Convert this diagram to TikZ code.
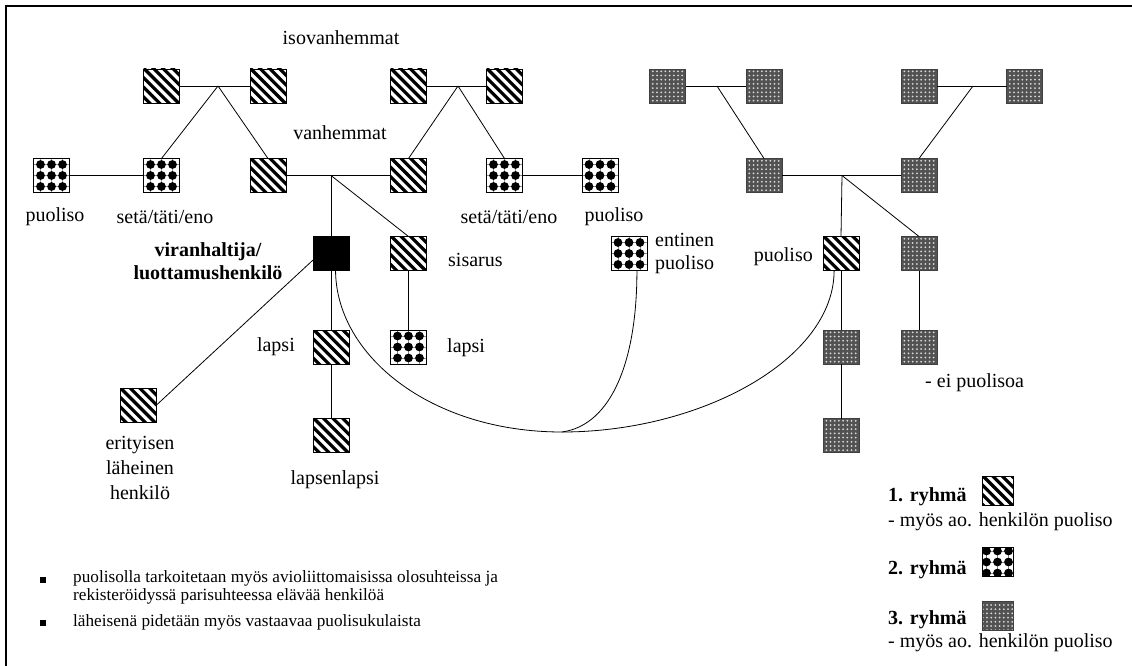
\documentclass[tikz,border=0pt]{standalone}
\usepackage{fontspec}
\setmainfont{Liberation Serif}
\begin{document}
\begin{tikzpicture}[x=1pt,y=-1pt,
  sq/.style={draw, line width=0.8pt, minimum width=36pt, minimum height=34pt, inner sep=0pt, outer sep=0pt},
  lgs/.style={minimum width=31pt, minimum height=29pt},
  hat/.style={sq, path picture={\begin{scope}[shift={(path picture bounding box.center)}]
      \foreach \k in {-6,...,6}{\draw[line width=3.2pt] (\k*9.6-30,-30) -- ++(60,60);}
    \end{scope}}},
  dts/.style={sq, path picture={\begin{scope}[shift={(path picture bounding box.center)}]
      \foreach \a in {-11,0,11}{\draw[line width=0.4pt, black!45] (\a,-20) -- (\a,20); \draw[line width=0.4pt, black!45] (-20,\a) -- (20,\a);}
      \foreach \a in {-11,0,11}{\foreach \b in {-11,0,11}{\fill (\a,\b) circle[radius=4.4];}}
    \end{scope}}},
  gry/.style={sq, draw=black!75, fill=black!68, path picture={\begin{scope}[shift={(path picture bounding box.center)}]
      \foreach \a in {-14.7,-10.5,...,14.8}{\foreach \b in {-14.7,-10.5,...,14.8}{\fill[white!85!black] (\a,\b) circle[radius=1.0];}}
    \end{scope}}},
  boss/.style={sq, fill=black},
  lbl/.style={font=\fontsize{20}{23}\selectfont, inner sep=0pt},
  note/.style={font=\fontsize{17.2}{19}\selectfont, inner sep=0pt, anchor=west},
  ln/.style={line width=0.8pt},
  bul/.style={fill=black, minimum size=6pt, inner sep=0pt}
]
\useasboundingbox (0,0) rectangle (1132,666);
\draw[line width=1.5pt] (6,666) -- (6,6) -- (1132,6);

% grandparents left
\node[hat] (gl1) at (161.5,86) {};
\node[hat] (gl2) at (268,86) {};
\coordinate (jl) at (218,86);
% grandparents middle
\node[hat] (gm1) at (408.5,86) {};
\node[hat] (gm2) at (504.5,86) {};
\coordinate (jm) at (458,86);
% in-law grandparents
\node[gry] (gr1) at (667.5,86) {};
\node[gry] (gr2) at (764,86) {};
\coordinate (jr1) at (717,86);
\node[gry] (gr3) at (919,86) {};
\node[gry] (gr4) at (1024.5,86) {};
\coordinate (jr2) at (973,86);

% row 2
\node[dts] (pl) at (51.5,175.5) {};
\node[dts] (sl) at (161.5,175.5) {};
\node[hat] (p1) at (268,175.5) {};
\node[hat] (p2) at (408.5,175.5) {};
\node[dts] (sr) at (504.5,175.5) {};
\node[dts] (pr) at (600,175.5) {};
\node[gry] (ip1) at (764,175.5) {};
\node[gry] (ip2) at (919,175.5) {};
\coordinate (jp) at (331,175.5);
\coordinate (js) at (842,175.5);

% row 3
\node[boss] (me) at (331,253.5) {};
\node[hat] (sis) at (408.5,253.5) {};
\node[dts] (ent) at (629,253.5) {};
\node[hat] (sp) at (841,253.5) {};
\node[gry] (isb) at (919,253.5) {};

% row 4/5
\node[hat] (ch) at (331,347) {};
\node[hat] (gch) at (331,435.5) {};
\node[dts] (sch) at (408.5,347) {};
\node[gry] (spc) at (841,347) {};
\node[gry] (spg) at (841,435.5) {};
\node[gry] (isc) at (919,347) {};
\node[hat] (er) at (138,405.5) {};
\coordinate (jc) at (562,432);

% connectors
\draw[ln] (gl1) -- (gl2);
\draw[ln] (jl) -- (sl.north);
\draw[ln] (jl) -- (p1.north);
\draw[ln] (gm1) -- (gm2);
\draw[ln] (jm) -- (p2.north);
\draw[ln] (jm) -- (sr.north);
\draw[ln] (gr1) -- (gr2);
\draw[ln] (jr1) -- (ip1.north);
\draw[ln] (gr3) -- (gr4);
\draw[ln] (jr2) -- (ip2.north);
\draw[ln] (pl) -- (sl);
\draw[ln] (p1) -- (p2);
\draw[ln] (sr) -- (pr);
\draw[ln] (ip1) -- (ip2);
\draw[ln] (jp) -- (me.north);
\draw[ln] (jp) -- (sis.north);
\draw[ln] (js) -- (sp.north);
\draw[ln] (js) -- (isb.north);
\draw[ln] (me) -- (ch);
\draw[ln] (ch) -- (gch);
\draw[ln] (sis) -- (sch);
\draw[ln] (sp) -- (spc);
\draw[ln] (spc) -- (spg);
\draw[ln] (isb) -- (isc);
\draw[ln] (me.200) -- (er.east);
\draw[ln] (me.-75) .. controls (336,355) and (430,432) .. (jc)
          .. controls (700,432) and (834,360) .. (sp.-112);
\draw[ln] (ent.-65) .. controls (637,360) and (612,425) .. (jc);

% labels
\node[lbl] (t1) at (341,38) {isovanhemmat};
\node[lbl] (t2) at (340,133) {vanhemmat};
\node[lbl] (t3) at (55,217) {puoliso};
\node[lbl] (t4) at (165,217) {setä/täti/eno};
\node[lbl] (t5) at (509,217) {setä/täti/eno};
\node[lbl] (t6) at (614,217) {puoliso};
\node[lbl, font=\bfseries\fontsize{20}{23}\selectfont, align=center] (t7) at (208,261) {viranhaltija/\\luottamushenkilö};
\node[lbl, anchor=west] (t8) at (448,260) {sisarus};
\node[lbl, anchor=west, align=left] (t9) at (655,254) {entinen\\puoliso};
\node[lbl, anchor=east] (t10) at (813,257) {puoliso};
\node[lbl, anchor=east] (t11) at (295,347) {lapsi};
\node[lbl, anchor=west] (t12) at (447,348) {lapsi};
\node[lbl] (t13) at (335,480) {lapsenlapsi};
\node[lbl, align=center, font=\fontsize{20}{25}\selectfont] (t14) at (140,468) {erityisen\\läheinen\\henkilö};
\node[lbl, anchor=west] (t15) at (925,383) {- ei puolisoa};

% notes
\node[bul] (b1) at (43,580) {};
\node[note] (n1) at (73,578) {puolisolla tarkoitetaan myös avioliittomaisissa olosuhteissa ja};
\node[note] (n2) at (73,596) {rekisteröidyssä parisuhteessa elävää henkilöä};
\node[bul] (b2) at (43,623) {};
\node[note] (n3) at (73,622) {läheisenä pidetään myös vastaavaa puolisukulaista};

% legend
\node[lbl, anchor=west, font=\bfseries\fontsize{20}{23}\selectfont] (g1) at (888,497) {1. ryhmä};
\node[hat, lgs] (g1s) at (997.5,490.5) {};
\node[lbl, anchor=west] (g1t) at (888,522) {- myös ao. henkilön puoliso};
\node[lbl, anchor=west, font=\bfseries\fontsize{20}{23}\selectfont] (g2) at (888,570) {2. ryhmä};
\node[dts, lgs] (g2s) at (997.5,562) {};
\node[lbl, anchor=west, font=\bfseries\fontsize{20}{23}\selectfont] (g3) at (888,620) {3. ryhmä};
\node[gry, lgs] (g3s) at (997.5,615.5) {};
\node[lbl, anchor=west] (g3t) at (888,643) {- myös ao. henkilön puoliso};
\end{tikzpicture}
\end{document}
